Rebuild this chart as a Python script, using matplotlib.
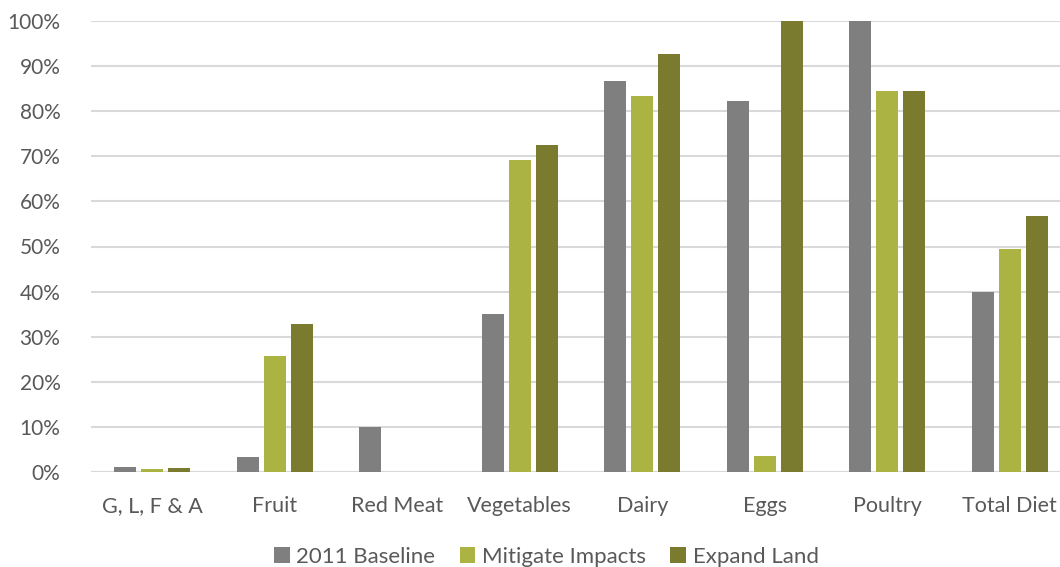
import numpy as np
import matplotlib
matplotlib.use("Agg")
import matplotlib.pyplot as plt
from matplotlib.ticker import PercentFormatter

categories = ["G, L, F & A", "Fruit", "Red Meat", "Vegetables", "Dairy", "Eggs", "Poultry", "Total Diet"]
baseline = [1.0, 3.3, 10.0, 35.0, 86.8, 82.2, 100.0, 40.0]
mitigate = [0.7, 25.8, 0.0, 69.2, 83.4, 3.5, 84.4, 49.4]
expand = [0.9, 32.8, 0.0, 72.6, 92.7, 100.0, 84.4, 56.8]
series_names = ["2011 Baseline", "Mitigate Impacts", "Expand Land"]
colors = ["#7f7f7f", "#abb343", "#7a7b2e"]

plt.rcParams['font.family'] = ['Lato', 'DejaVu Sans']
text_color = "#595959"

fig = plt.figure(figsize=(10.6, 5.67), dpi=100)
ax = fig.add_axes([91 / 1060, 1 - 472 / 567, 969 / 1060, 451 / 567])

x = np.arange(len(categories))
width = 0.18
step = 0.22
for i, (vals, name, col) in enumerate(zip([baseline, mitigate, expand], series_names, colors)):
    ax.bar(x + (i - 1) * step, vals, width, color=col, label=name, zorder=3)

ax.set_ylim(0, 100)
ax.set_xlim(-0.5, 7.5 - 11 / 122.5)
ax.set_yticks(np.arange(0, 101, 10))
ax.yaxis.set_major_formatter(PercentFormatter(decimals=0))
ax.set_xticks(x)
ax.set_xticklabels(categories)
ax.grid(axis='y', color="#d9d9d9", linewidth=1.5, zorder=0)
for s in ax.spines.values():
    s.set_visible(False)
ax.axhline(0, color="#d9d9d9", linewidth=1.5, zorder=2)
ax.tick_params(axis='both', length=0, labelsize=15, colors=text_color)
ax.tick_params(axis='x', labelsize=15.5)
ax.tick_params(axis='y', pad=22)
ax.tick_params(axis='x', pad=17)

leg = ax.legend(loc='lower center', bbox_to_anchor=(0.47, -0.245), ncol=3, frameon=False,
                fontsize=16, handlelength=0.7, handleheight=0.7, handletextpad=0.3,
                columnspacing=1.1, labelcolor=text_color, borderaxespad=0.3)

fig.savefig("out.png", dpi=100)
